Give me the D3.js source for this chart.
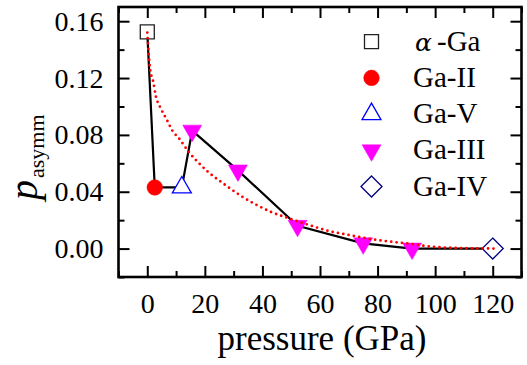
<!DOCTYPE html>
<html>
<head>
<meta charset="utf-8">
<script src="https://cdn.jsdelivr.net/npm/d3@7"></script>
<style>
  body { margin: 0; background: #fff; }
</style>
</head>
<body>
<svg id="chart" width="527" height="365" style="font-family: 'Liberation Serif', monospace"></svg>
<script>
// data
var alphaGa = [[0, 0.1525]];
var gaII = [[2.6, 0.043]];
var gaV = [[12, 0.043]];
var gaIII = [[15.6, 0.083], [31.5, 0.055], [52.2, 0.016], [75, 0.0037], [92, 0.0]];
var gaIV = [[120, 0.0]];

// dotted fit curve, read point by point
var fitX = [0, 0.5, 1, 2, 3, 4.6, 6.7, 8.7, 11, 14.4, 18, 21.4, 25.2, 29.2, 33, 38, 42.7, 49, 56, 63, 70, 78, 84, 89.5, 98.6, 110, 122];
var fitY = [0.152, 0.137, 0.126, 0.118, 0.107, 0.099, 0.091, 0.083, 0.0776, 0.068, 0.060, 0.0534, 0.0476, 0.0417, 0.0365, 0.0307, 0.026, 0.0214, 0.0167, 0.0124, 0.0096, 0.0066, 0.005, 0.0038, 0.0014, 0.0003, 0.0];

var xMajor = [0, 20, 40, 60, 80, 100, 120];
var xMinor = [-10, 10, 30, 50, 70, 90, 110, 130];
var yMajor = [0, 0.04, 0.08, 0.12, 0.16];
var yMinor = [-0.02, 0.02, 0.06, 0.10, 0.14];

var legendNames = ["-Ga", "Ga-II", "Ga-V", "Ga-III", "Ga-IV"];

var FONT = "'Liberation Serif', monospace";
var svg = d3.select("#chart");
var L = 118.5, R = 521.5, T = 7, B = 277;

var x = d3.scaleLinear().domain([-10, 130]).range([L, R]);
var y = d3.scaleLinear().domain([-0.02, 0.17]).range([B, T]);

// axes, ticks inward on all sides
function styleAxis(g) {
  g.attr("font-family", null).attr("font-size", null);
  g.select(".domain").remove();
  g.selectAll(".tick line").attr("stroke", "#000").attr("stroke-width", 2);
  g.selectAll("text").style("font-family", FONT).attr("font-size", 28).attr("fill", "#000");
}
svg.append("g").attr("transform", "translate(0," + B + ")")
  .call(d3.axisBottom(x).tickValues(xMajor).tickSize(-11).tickPadding(16).tickFormat(d3.format("d"))).call(styleAxis);
svg.append("g").attr("transform", "translate(0," + B + ")")
  .call(d3.axisBottom(x).tickValues(xMinor).tickSize(-6).tickFormat("")).call(styleAxis);
svg.append("g").attr("transform", "translate(0," + T + ")")
  .call(d3.axisTop(x).tickValues(xMajor).tickSize(-11).tickFormat("")).call(styleAxis);
svg.append("g").attr("transform", "translate(0," + T + ")")
  .call(d3.axisTop(x).tickValues(xMinor).tickSize(-6).tickFormat("")).call(styleAxis);
svg.append("g").attr("transform", "translate(" + L + ",0)")
  .call(d3.axisLeft(y).tickValues(yMajor).tickSize(-11).tickPadding(15).tickFormat(d3.format(".2f"))).call(styleAxis);
svg.append("g").attr("transform", "translate(" + L + ",0)")
  .call(d3.axisLeft(y).tickValues(yMinor).tickSize(-6).tickFormat("")).call(styleAxis);
svg.append("g").attr("transform", "translate(" + R + ",0)")
  .call(d3.axisRight(y).tickValues(yMajor).tickSize(-11).tickFormat("")).call(styleAxis);
svg.append("g").attr("transform", "translate(" + R + ",0)")
  .call(d3.axisRight(y).tickValues(yMinor).tickSize(-6).tickFormat("")).call(styleAxis);

svg.append("rect")
  .attr("x", L).attr("y", T).attr("width", R - L).attr("height", B - T)
  .attr("fill", "none").attr("stroke", "#000").attr("stroke-width", 2.6);

// connecting black line through all phases
var allPts = alphaGa.concat(gaII, gaV, gaIII, gaIV);
var line = d3.line().x(function (d) { return x(d[0]); }).y(function (d) { return y(d[1]); });
svg.append("path").datum(allPts)
  .attr("d", line).attr("fill", "none").attr("stroke", "#000").attr("stroke-width", 2.2);

// marker shapes
function triUp(w, h) { return "M0," + (-2 * h / 3) + "L" + (w / 2) + "," + (h / 3) + "L" + (-w / 2) + "," + (h / 3) + "Z"; }
function triDown(w, h) { return "M0," + (2 * h / 3) + "L" + (w / 2) + "," + (-h / 3) + "L" + (-w / 2) + "," + (-h / 3) + "Z"; }
var shapes = [
  { d: "M-7,-7H7V7H-7Z", fill: "#fff", stroke: "#222", sw: 1.3 },
  { circle: 7.8, fill: "#ff0000", stroke: "#ff0000", sw: 0.5 },
  { d: triUp(19, 16.5), fill: "#fff", stroke: "#0000ff", sw: 1.3 },
  { d: triDown(19, 16.5), fill: "#ff00ff", stroke: "#ff00ff", sw: 0.5 },
  { d: "M0,-10.5L10.5,0L0,10.5L-10.5,0Z", fill: "#fff", stroke: "#000080", sw: 1.3 }
];
var series = [alphaGa, gaII, gaV, gaIII, gaIV];

function drawMarker(g, s) {
  if (s.circle) {
    g.append("circle").attr("r", s.circle).attr("fill", s.fill).attr("stroke", s.stroke).attr("stroke-width", s.sw);
  } else {
    g.append("path").attr("d", s.d).attr("fill", s.fill).attr("stroke", s.stroke).attr("stroke-width", s.sw);
  }
}

series.forEach(function (data, i) {
  svg.append("g").selectAll("g").data(data).enter().append("g")
    .attr("transform", function (d) { return "translate(" + x(d[0]) + "," + y(d[1]) + ")"; })
    .each(function () { drawMarker(d3.select(this), shapes[i]); });
});

// red dotted fit on top
var fitPts = fitX.map(function (v, i) { return [v, fitY[i]]; });
svg.append("path").datum(fitPts)
  .attr("d", line.curve(d3.curveMonotoneX))
  .attr("fill", "none").attr("stroke", "#ff0000").attr("stroke-width", 2.8)
  .attr("stroke-linecap", "round").attr("stroke-dasharray", "0 5.4");

// legend
var legY0 = 41.7, legStep = 36.2;
legendNames.forEach(function (name, i) {
  var cy = legY0 + i * legStep;
  var g = svg.append("g").attr("transform", "translate(371.5," + cy + ")");
  drawMarker(g, shapes[i]);
  if (i === 0) {
    // greek letter kept in its own element
    svg.append("text").attr("x", 415).attr("y", cy + 9).attr("font-size", 25)
      .style("font-family", "'DejaVu Serif', monospace").style("font-style", "italic")
      .text("α");
    svg.append("text").attr("x", 437).attr("y", cy + 9).attr("font-size", 29)
      .style("font-family", FONT).text(name);
  } else {
    svg.append("text").attr("x", 413).attr("y", cy + 9).attr("font-size", 29)
      .style("font-family", FONT).text(name);
  }
});

// axis titles
svg.append("text").attr("x", 322).attr("y", 350).attr("text-anchor", "middle")
  .attr("font-size", 35).style("font-family", FONT)
  .text("pressure (GPa)");

var yt = svg.append("text").attr("transform", "translate(37,200) rotate(-90)")
  .attr("font-size", 40).style("font-family", FONT);
yt.append("tspan").style("font-style", "italic").text("p");
yt.append("tspan").attr("font-size", 22).attr("dy", 7).attr("dx", 2).text("asymm");
</script>
</body>
</html>
